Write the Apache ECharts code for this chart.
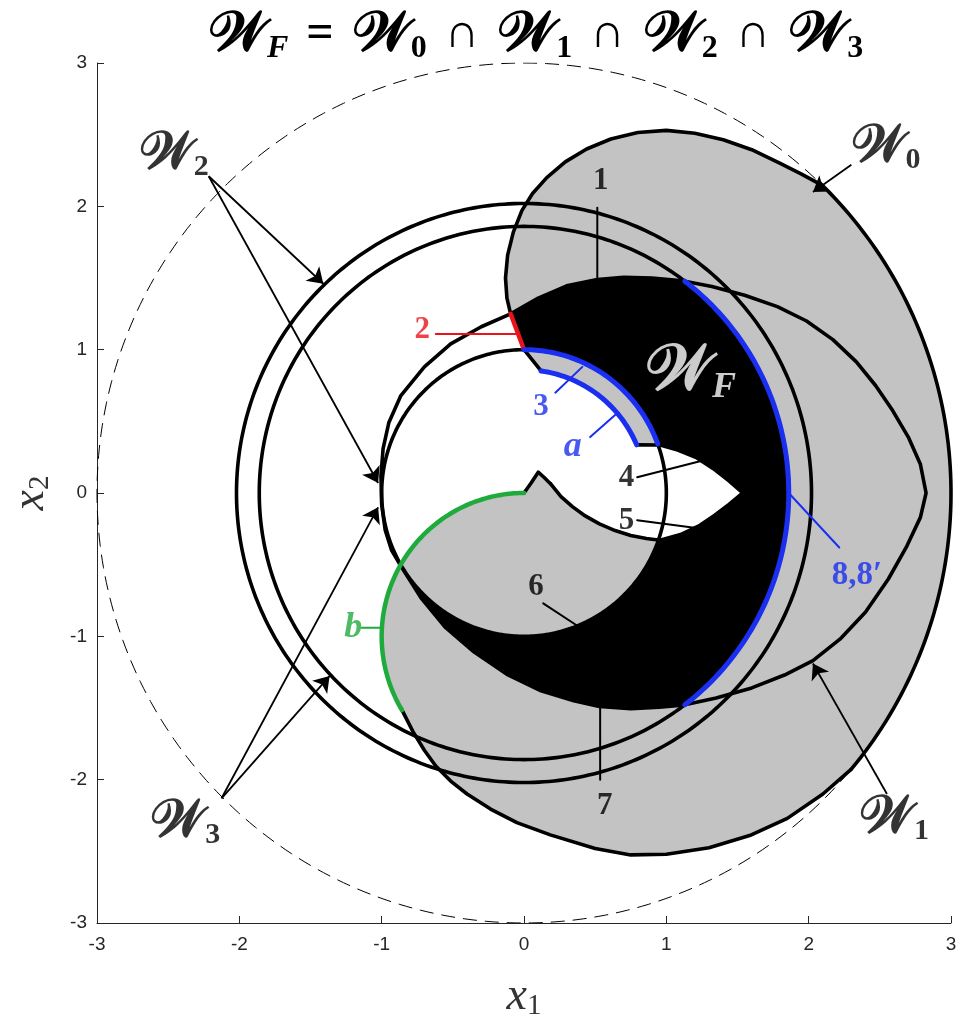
<!DOCTYPE html>
<html><head><meta charset="utf-8">
<script src="https://cdn.jsdelivr.net/npm/echarts/dist/echarts.min.js"></script>
<style>html,body{margin:0;padding:0;background:#fff}#c{width:964px;height:1029px}</style>
</head><body><div id="c"></div>
<script>
// ---------- circles: [cx, cy, r] ----------
const C_DASH = [0, 0, 3];
const C_UNIT = [0, 0, 1];
const C_GREEN_B = [0, -1, 1];
const C_BLUE_A = [0, 0, 0.86];
const C_W2 = [0, 0, 2.02];     // outer circle of W2
const C_W3 = [0, 0, 1.86];     // outer circle of W3 (blue 8,8' on the right)

// ---------- traced boundary pieces (data units) ----------
const RED2 = [[0,1.0],[-0.03,1.08],[-0.062,1.165],[-0.094,1.25]];
const W0_TOP = [[-0.094,1.25],[-0.12,1.36],[-0.13,1.50],[-0.115,1.66],[-0.075,1.82],[-0.015,1.97],[0.06,2.09],[0.16,2.20],[0.29,2.31],[0.44,2.40],[0.61,2.47],[0.80,2.515],[1.00,2.53],[1.20,2.51],[1.40,2.465],[1.60,2.395],[1.80,2.30],[1.95,2.225],[2.07,2.16]];
const W0_RIGHT_ARC = [46.2, -40];   // along the dashed circle, degrees
const W0_BOTTOM = [[2.298,-1.928],[2.10,-2.10],[1.85,-2.27],[1.585,-2.39],[1.30,-2.475],[1.00,-2.52],[0.75,-2.525],[0.50,-2.48],[0.185,-2.385],[-0.05,-2.30],[-0.235,-2.205],[-0.40,-2.10],[-0.515,-2.01],[-0.62,-1.905],[-0.70,-1.795],[-0.78,-1.665],[-0.857,-1.515]];
const GREEN_B_ARC = [211, 90];
const SPIKE = [[0,0],[0.05,0.07],[0.10,0.145],[0.14,0.11],[0.186,0.065]];
const HOLE = [[0.186,0.065],[0.26,-0.025],[0.34,-0.095],[0.43,-0.16],[0.53,-0.215],[0.64,-0.262],[0.75,-0.297],[0.86,-0.318],[0.955,-0.33]];
const LENS_LOW = [[0.955,-0.33],[1.10,-0.29],[1.236,-0.225],[1.34,-0.155],[1.44,-0.08],[1.537,0]];
const LENS_UP = [[1.537,0],[1.44,0.085],[1.33,0.17],[1.215,0.245],[1.08,0.30],[0.956,0.335]];
const NOTCH = [[0.956,0.335],[0.79,0.336]];
const BLUE_A_ARC = [23, 82];
const DIAG = [[0.12,0.852],[0,1]];

const W1_TOP_RIGHT = [[2.825,0],[2.785,0.20],[2.70,0.39],[2.59,0.575],[2.47,0.75],[2.335,0.915],[2.17,1.07],[1.985,1.20],[1.78,1.30],[1.55,1.38],[1.32,1.44],[1.13,1.478]];
const W1_TOP_MID = [[1.13,1.478],[0.90,1.50],[0.70,1.505],[0.515,1.49],[0.30,1.445],[0.10,1.36],[-0.094,1.25]];
const W1_LEFT = [[-0.094,1.25],[-0.30,1.16],[-0.515,1.04],[-0.70,0.88],[-0.865,0.68],[-0.95,0.49],[-0.99,0.31],[-1.005,0.12],[-1.0,-0.08],[-0.975,-0.26],[-0.93,-0.40],[-0.865,-0.51]];
const W1_BOT_MID = [[-0.865,-0.51],[-0.725,-0.73],[-0.55,-0.94],[-0.35,-1.11],[-0.12,-1.265],[0.12,-1.38],[0.35,-1.45],[0.53,-1.49],[0.75,-1.505],[0.95,-1.495],[1.13,-1.478]];
const W1_BOT_RIGHT = [[1.13,-1.478],[1.35,-1.43],[1.60,-1.36],[1.83,-1.27],[2.03,-1.17],[2.22,-1.02],[2.40,-0.83],[2.56,-0.60],[2.69,-0.37],[2.785,-0.17],[2.825,0]];
const BLUE_8_ARC = [52.6, -52.6];
const UNIT_ARC3 = [20, 90];

// ---------- annotations ----------
const LEADERS = [
  {c:'#000', p:[[0.515,1.99],[0.515,1.49]]},
  {c:'#e8141c', p:[[-0.62,1.11],[-0.04,1.11]]},
  {c:'#1a2ff0', p:[[0.22,0.70],[0.41,0.88]]},
  {c:'#1a2ff0', p:[[0.465,0.39],[0.64,0.545]]},
  {c:'#000', p:[[0.795,0.11],[1.25,0.225]]},
  {c:'#000', p:[[0.795,-0.19],[1.25,-0.25]]},
  {c:'#000', p:[[0.135,-0.77],[0.396,-0.94]]},
  {c:'#000', p:[[0.535,-1.49],[0.535,-2.0]]},
  {c:'#1a2ff0', p:[[1.86,0],[2.215,-0.38]]},
  {c:'#1faa3c', p:[[-1.14,-0.94],[-1.0,-0.94]]}
];
const ARROWS = [
  [[2.30,2.29],[2.03,2.10]],
  [[2.55,-2.10],[2.03,-1.19]],
  [[-2.215,2.21],[-1.41,1.46]],
  [[-2.215,2.21],[-1.025,0.07]],
  [[-2.125,-2.13],[-1.366,-1.277]],
  [[-2.125,-2.13],[-1.025,-0.10]]
];
const NUM_LABELS = [
  {p:[0.54,2.18], t:'1', c:'#000'},
  {p:[-0.715,1.137], t:'2', c:'#e8141c'},
  {p:[0.12,0.60], t:'3', c:'#1a2ff0'},
  {p:[0.72,0.105], t:'4', c:'#000'},
  {p:[0.72,-0.195], t:'5', c:'#000'},
  {p:[0.084,-0.656], t:'6', c:'#000'},
  {p:[0.568,-2.184], t:'7', c:'#000'},
  {p:[2.34,-0.572], t:'8,8\u2032', c:'#1a2ff0'}
];
const ITAL_LABELS = [
  {p:[0.343,0.32], t:'a', c:'#1a2ff0'},
  {p:[-1.2,-0.942], t:'b', c:'#1faa3c'}
];
const SET_LABELS = [
  {p:[1.17,0.845], sub:'F', c:'#fff', big:true},
  {p:[2.54,2.41], sub:'0', c:'#000'},
  {p:[2.6,-2.27], sub:'1', c:'#000'},
  {p:[-2.46,2.36], sub:'2', c:'#000'},
  {p:[-2.38,-2.30], sub:'3', c:'#000'}
];

// ---------- helpers ----------
function arcPts(c, a0, a1) {
  const n = Math.max(2, Math.ceil(Math.abs(a1 - a0)));
  const out = [];
  for (let i = 0; i <= n; i++) {
    const a = (a0 + (a1 - a0) * i / n) * Math.PI / 180;
    out.push([c[0] + c[2] * Math.cos(a), c[1] + c[2] * Math.sin(a)]);
  }
  return out;
}
const join = (...parts) => [].concat(...parts);

const W0_POLY = join(RED2, W0_TOP, arcPts(C_DASH, W0_RIGHT_ARC[0], W0_RIGHT_ARC[1]), W0_BOTTOM,
  arcPts(C_GREEN_B, GREEN_B_ARC[0], GREEN_B_ARC[1]), SPIKE, HOLE, LENS_LOW, LENS_UP, NOTCH,
  arcPts(C_BLUE_A, BLUE_A_ARC[0], BLUE_A_ARC[1]), DIAG);
const WF_POLY = join(RED2, W1_TOP_MID.slice().reverse(), arcPts(C_W3, BLUE_8_ARC[0], BLUE_8_ARC[1]),
  W1_BOT_MID.slice().reverse(), arcPts(C_UNIT, 210, 340), LENS_LOW, LENS_UP, arcPts(C_UNIT, UNIT_ARC3[0], UNIT_ARC3[1]));
const W1_ALL = join(W1_TOP_RIGHT, W1_TOP_MID, W1_LEFT, W1_BOT_MID, W1_BOT_RIGHT);

function fill(pts, color, z) {
  return {type:'custom', coordinateSystem:'cartesian2d', silent:true, z, data:[[0,0]],
    renderItem: (params, api) => ({type:'polygon', shape:{points: pts.map(p => api.coord(p))}, style:{fill: color}})};
}
function line(pts, color, width, z, extra) {
  return Object.assign({type:'line', data: pts, showSymbol:false, symbol:'none', silent:true, z,
    lineStyle:{color, width, cap:'round', join:'round'}}, extra || {});
}

const SERIF = "'Liberation Serif','DejaVu Serif',serif";
const SCRIPT = "'DejaVu Serif','DejaVu Sans','Noto Sans',serif";
const BLUE = '#1a2ff0';

const series = [];
series.push(line(arcPts(C_DASH, 0, 360), '#000', 1, 1, {lineStyle:{color:'#000', width:1, type:[14,8]}}));
series.push(fill(W0_POLY, '#c3c3c3', 2));
series.push(fill(WF_POLY, '#000', 3));
// black boundaries
const BW = 3.6;
[W0_TOP, arcPts(C_DASH, W0_RIGHT_ARC[0], W0_RIGHT_ARC[1]), W0_BOTTOM, SPIKE, HOLE, LENS_LOW, LENS_UP, NOTCH, DIAG,
 W1_ALL, arcPts(C_UNIT, 90, 380), arcPts(C_W2, 0, 360), arcPts(C_W3, 0, 360)].forEach(p => series.push(line(p, '#000', BW, 4)));
// coloured boundary pieces
series.push(line(RED2, '#e8141c', 4.5, 5));
series.push(line(arcPts(C_UNIT, UNIT_ARC3[0], UNIT_ARC3[1]), BLUE, 5, 5));
series.push(line(arcPts(C_BLUE_A, BLUE_A_ARC[0], BLUE_A_ARC[1]), BLUE, 5, 5));
series.push(line(arcPts(C_W3, BLUE_8_ARC[0], BLUE_8_ARC[1]), BLUE, 5, 5));
series.push(line(arcPts(C_GREEN_B, GREEN_B_ARC[0], GREEN_B_ARC[1]), '#1faa3c', 4.5, 5));
// leaders
LEADERS.forEach(l => series.push(line(l.p, l.c, 2, 6)));
// arrows
series.push({type:'lines', coordinateSystem:'cartesian2d', silent:true, z:6, symbol:['none','arrow'], symbolSize:[9,15],
  lineStyle:{color:'#000', width:1.8, opacity:1}, data: ARROWS.map(a => ({coords:a}))});
// labels
series.push({type:'scatter', silent:true, z:8, symbolSize:0, data: NUM_LABELS.map(l => ({value:l.p,
  label:{show:true, position:'inside', formatter:l.t, color:l.c, fontFamily:SERIF, fontWeight:'bold', fontSize:l.t.length>1?33:31}}))});
series.push({type:'scatter', silent:true, z:8, symbolSize:0, data: ITAL_LABELS.map(l => ({value:l.p,
  label:{show:true, position:'inside', formatter:l.t, color:l.c, fontFamily:SERIF, fontWeight:'bold', fontStyle:'italic', fontSize:36}}))});
series.push({type:'scatter', silent:true, z:8, symbolSize:0, data: SET_LABELS.map(l => ({value:l.p,
  label:{show:true, position:'inside', formatter:'{w|\uD835\uDCB2}{s|' + l.sub + '}',
    rich:{w:{color:l.c, fontFamily:SCRIPT, fontSize:l.big?64:52, fontWeight:'bold', lineHeight:l.big?68:56},
          s:{color:l.c, fontFamily:SERIF, fontWeight:'bold', fontStyle:l.sub==='F'?'italic':'normal', fontSize:l.big?36:30, verticalAlign:'bottom', lineHeight:l.big?38:32}}}}))});

const chart = echarts.init(document.getElementById('c'), null, {renderer:'canvas'});
chart.setOption({
  animation:false,
  backgroundColor:'#fff',
  title:{left:203, top:0, text:'{w|\uD835\uDCB2}{f|F}{o|=}{w|\uD835\uDCB2}{s|0}{o|\u2229}{w|\uD835\uDCB2}{s|1}{o|\u2229}{w|\uD835\uDCB2}{s|2}{o|\u2229}{w|\uD835\uDCB2}{s|3}',
    textStyle:{rich:{w:{fontFamily:SCRIPT, fontSize:56, fontWeight:'bold', color:'#000', lineHeight:60},
      s:{fontFamily:SERIF, fontSize:32, fontWeight:'bold', color:'#000', verticalAlign:'bottom', lineHeight:34},
      f:{fontFamily:SERIF, fontSize:32, fontWeight:'bold', fontStyle:'italic', color:'#000', verticalAlign:'bottom', lineHeight:34},
      o:{fontFamily:SERIF, fontSize:48, fontWeight:'bold', color:'#000', lineHeight:60, padding:[0,18,0,18]}}}},
  grid:{left:95, right:13, top:63, bottom:106},
  xAxis:{type:'value', min:-3, max:3, interval:1,
    axisLine:{show:true, onZero:false, lineStyle:{color:'#262626', width:1}},
    axisTick:{inside:true, length:7, lineStyle:{color:'#262626'}},
    splitLine:{show:false},
    axisLabel:{fontFamily:"'Liberation Sans',Arial,sans-serif", fontSize:19, color:'#262626', margin:12},
    name:'{x|x}{s|1}', nameLocation:'middle', nameGap:50,
    nameTextStyle:{rich:{x:{fontFamily:SERIF, fontStyle:'italic', fontSize:46, color:'#333', lineHeight:48},
      s:{fontFamily:SERIF, fontSize:29, color:'#333', verticalAlign:'bottom', lineHeight:30}}}},
  yAxis:{type:'value', min:-3, max:3, interval:1,
    axisLine:{show:true, onZero:false, lineStyle:{color:'#262626', width:1}},
    axisTick:{inside:true, length:7, lineStyle:{color:'#262626'}},
    splitLine:{show:false},
    axisLabel:{fontFamily:"'Liberation Sans',Arial,sans-serif", fontSize:19, color:'#262626', margin:10},
    name:'{x|x}{s|2}', nameLocation:'middle', nameGap:42,
    nameTextStyle:{rich:{x:{fontFamily:SERIF, fontStyle:'italic', fontSize:46, color:'#333', lineHeight:48},
      s:{fontFamily:SERIF, fontSize:29, color:'#333', verticalAlign:'bottom', lineHeight:30}}}},
  series
});
</script></body></html>
